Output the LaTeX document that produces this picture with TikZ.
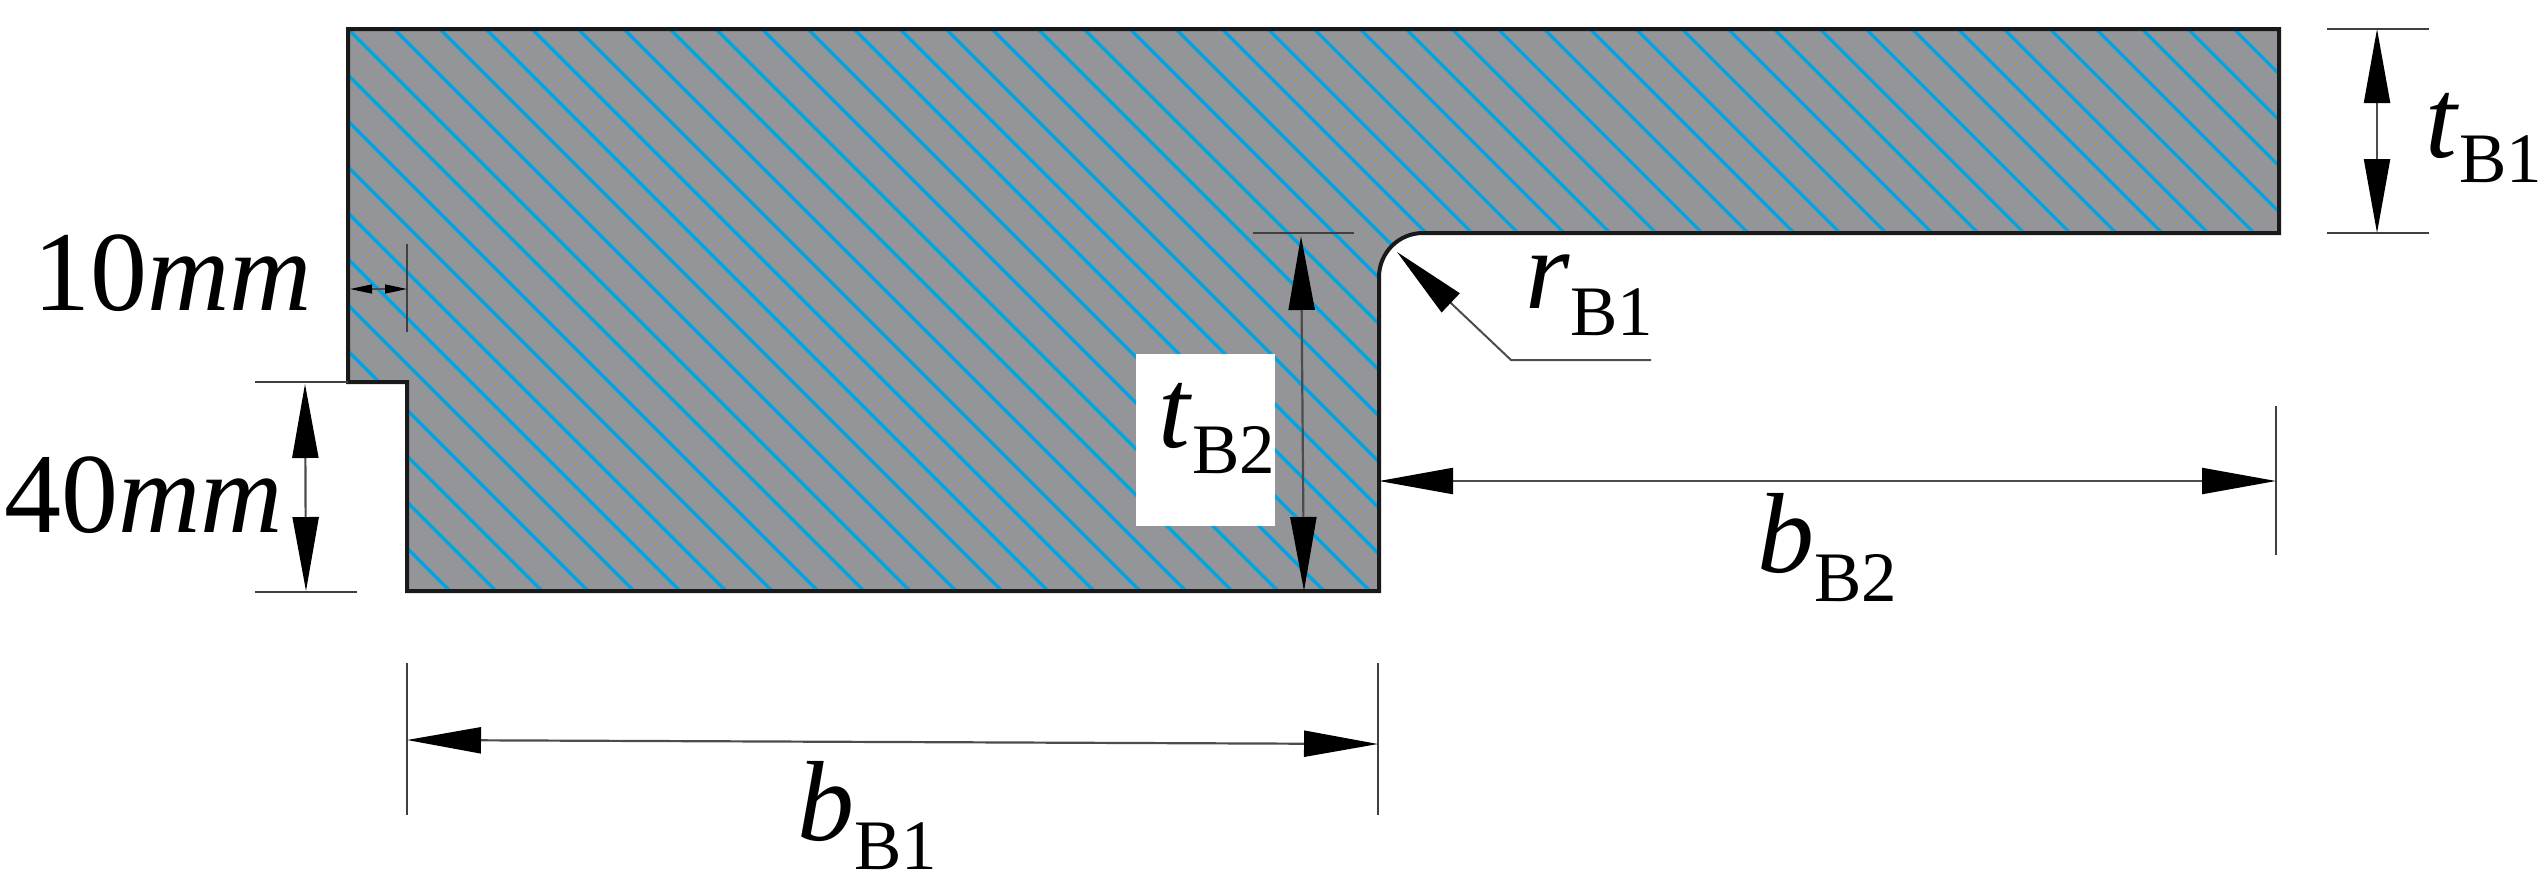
\documentclass[tikz,border=0pt]{standalone}
\usepackage{fontspec}
\setmainfont{Liberation Serif}
\usetikzlibrary{arrows.meta}
\definecolor{sectiongray}{RGB}{147,149,152}
\definecolor{hatchblue}{RGB}{0,165,225}
\newcommand{\symsub}[3]{\textit{#1}\raisebox{#3}{\fontsize{35.5}{40}\selectfont #2}}
\begin{document}
\begin{tikzpicture}[x=0.5pt,y=-0.5pt,
  label/.style={inner sep=0pt,anchor=base west,font=\fontsize{57}{60}\selectfont},
  outline/.style={line width=2pt,black!90,line join=miter},
  ext/.style={line width=1pt,black!75},
  dim/.style={line width=1.1pt,black!70,{Triangle[length=37pt,width=13pt,black]}-{Triangle[length=37pt,width=13pt,black]}},
  smalldim/.style={line width=0.7pt,black!70,{Triangle[length=11pt,width=4.5pt,black]}-{Triangle[length=11pt,width=4.5pt,black]}},
  leader/.style={line width=1pt,black!70,{Triangle[length=37pt,width=13pt,black]}-}]
\useasboundingbox (0,0) rectangle (2546,885);
% section
\fill[sectiongray] (348,29) -- (2279,29) -- (2279,233) -- (1423,233) arc[start angle=90,end angle=180,radius=22pt] -- (1379,591) -- (407,591) -- (407,382) -- (348,382) -- cycle;
\begin{scope}
\clip (348,29) -- (2279,29) -- (2279,233) -- (1423,233) arc[start angle=90,end angle=180,radius=22pt] -- (1379,591) -- (407,591) -- (407,382) -- (348,382) -- cycle;
\foreach \k in {-52,...,3}
  \draw[hatchblue,line width=1.6pt] ({2113+46*\k+29},29) -- ({2113+46*\k+591},591);
\end{scope}
\draw[outline] (348,29) -- (2279,29) -- (2279,233) -- (1423,233) arc[start angle=90,end angle=180,radius=22pt] -- (1379,591) -- (407,591) -- (407,382) -- (348,382) -- cycle;
\node[fill=white,inner sep=0pt,minimum width=69.5pt,minimum height=86pt,anchor=north west] (whitebox) at (1136,354) {};
% ends of the dimension lines
\coordinate (ta1) at (2377,29);
\coordinate (ta2) at (2377,233);
\coordinate (tb1) at (1301,236);
\coordinate (tb2) at (1304,591);
\coordinate (ba1) at (1379,481);
\coordinate (ba2) at (2276,481);
\coordinate (bb1) at (407,740);
\coordinate (bb2) at (1378,744);
\coordinate (fa1) at (305,384);
\coordinate (fa2) at (306,591);
\coordinate (ga1) at (350,289);
\coordinate (ga2) at (407,289);
\coordinate (rtip) at (1397,252);
\coordinate (rbend) at (1511,360);
\coordinate (rend) at (1651,360);
% extension lines
\draw[ext] (2327,29) -- (2429,29);
\draw[ext] (2327,233) -- (2429,233);
\draw[ext] (1253,233) -- (1354,233);
\draw[ext] (2276,406) -- (2276,555);
\draw[ext] (407,663) -- (407,815);
\draw[ext] (1378,663) -- (1378,815);
\draw[ext] (255,382) -- (348,382);
\draw[ext] (255,592) -- (357,592);
\draw[ext] (407,244) -- (407,332);
% dimension lines
\draw[dim] (ta1) -- (ta2);
\draw[dim] (tb1) -- (tb2);
\draw[dim] (ba1) -- (ba2);
\draw[dim] (bb1) -- (bb2);
\draw[dim] (fa1) -- (fa2);
\draw[smalldim] (ga1) -- (ga2);
\draw[leader] (rtip) -- (rbend) -- (rend);
% labels
\node[label] (tenmm) at (33,310) {10\textit{mm}};
\node[label] (fortymm) at (4,532) {40\textit{mm}};
\node[label] (tbone) at (2425,157) {\symsub{t}{B1}{-12.5pt}};
\node[label] (tbtwo) at (1158,447) {\symsub{t}{B2}{-13pt}};
\node[label] (rbone) at (1525,308) {\symsub{r}{B1}{-13.5pt}};
\node[label] (bbtwo) at (1757,572) {\symsub{b}{B2}{-14.5pt}};
\node[label] (bbone) at (797,840) {\symsub{b}{B1}{-14.5pt}};
\end{tikzpicture}
\end{document}
